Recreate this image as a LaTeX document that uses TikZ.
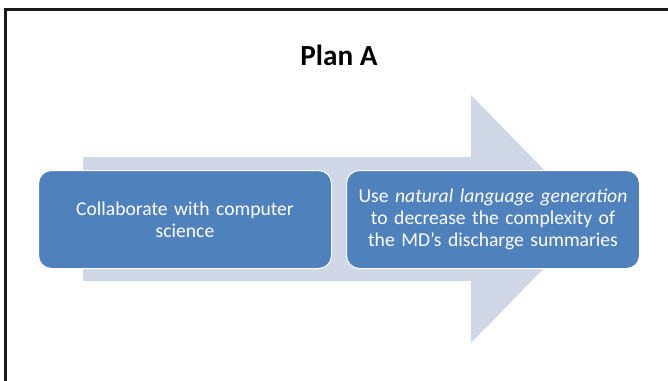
\documentclass[tikz,border=0pt]{standalone}
\usepackage{fontspec}
\setmainfont{Carlito}
\usetikzlibrary{positioning}
\definecolor{cblue}{HTML}{4F81BD}
\definecolor{cpale}{HTML}{D0D8E8}
\definecolor{cframe}{HTML}{1A1A1A}
\tikzset{
  every picture/.style={line width=1pt},
  step box/.style={draw=white, fill=cblue, rounded corners=13pt, align=center, text=white,
    minimum width=293pt, minimum height=98pt, text width=285pt, inner sep=0pt,
    font=\fontsize{19.6}{21.8}\selectfont},
  title/.style={font=\fontsize{29.2}{34}\selectfont\bfseries},
  big arrow/.style={fill=cpale, draw=none},
  frame/.style={draw=cframe, line width=3pt},
}
\begin{document}
\begin{tikzpicture}[x=1pt, y=-1pt]
  \useasboundingbox (0,0) rectangle (668,380);

  % slide frame (cut off at right and bottom)
  \draw[frame] (5.5,381) -- (5.5,9) -- (669,9);

  \node[title] (plan) at (339,55) {Plan A};

  % background arrow
  \fill[big arrow] (83,157) -- (471,157) -- (471,95) -- (592,219)
    -- (471,343) -- (471,281) -- (83,281) -- cycle;

  % steps
  \node[step box] (collab) at (185,219.5) {Collaborate with computer\\science};
  \node[step box] (nlg)    at (493,219.5) {Use \textit{natural language generation}\\to decrease the complexity of\\the MD’s discharge summaries};
\end{tikzpicture}
\end{document}
